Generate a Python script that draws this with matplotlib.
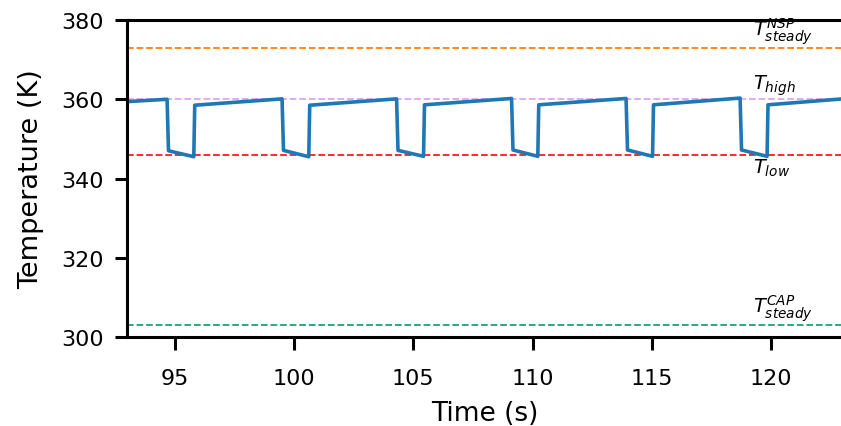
import matplotlib
matplotlib.use("Agg")
import matplotlib.pyplot as plt

# cycle vertices (time in s, temperature in K)
start_time, start_temp = 93.0, 359.4
peak_times = [94.68, 99.50, 104.30, 109.12, 113.92, 118.70]
peak_temps = [360.0, 360.1, 360.1, 360.2, 360.2, 360.3]
drop_temps = [347.0, 347.1, 347.1, 347.2, 347.2, 347.2]
trough_times = [95.80, 100.62, 105.43, 110.22, 115.03, 119.83]
trough_temps = [345.5, 345.5, 345.6, 345.6, 345.6, 345.6]
restart_temps = [358.5, 358.5, 358.6, 358.6, 358.6, 358.6]
end_time, end_temp = 123.0, 360.1

T_nsp = 373.0
T_high = 360.0
T_low = 346.0
T_cap = 303.0

# build polyline
t = [start_time]
T = [start_temp]
for pt, pT, dT, tt, tT, rT in zip(peak_times, peak_temps, drop_temps,
                                  trough_times, trough_temps, restart_temps):
    t += [pt, pt + 0.06, tt, tt + 0.04]
    T += [pT, dT, tT, rT]
t.append(end_time)
T.append(end_temp)

fig = plt.figure(figsize=(8.41, 4.27), dpi=100)
ax = fig.add_axes([0.151, 0.2084, 0.851, 0.7424])

ax.axhline(T_nsp, color="#ff7f0e", ls="--", lw=1.3)
ax.axhline(T_high, color="#dca6f5", ls="--", lw=1.3)
ax.axhline(T_low, color="#ff1a1a", ls="--", lw=1.3)
ax.axhline(T_cap, color="#17a578", ls="--", lw=1.3)
ax.plot(t, T, color="#1f77b4", lw=2.6)

tx = 119.25
ax.text(tx, T_nsp + 0.5, r"$T^{NSP}_{steady}$", fontsize=14, va="bottom")
ax.text(tx, T_high + 0.6, r"$T_{high}$", fontsize=14, va="bottom")
ax.text(tx, T_low - 0.6, r"$T_{low}$", fontsize=14, va="top")
ax.text(tx, T_cap + 0.5, r"$T^{CAP}_{steady}$", fontsize=14, va="bottom")

ax.set_xlim(93, 123)
ax.set_ylim(300, 380)
ax.set_xticks([95, 100, 105, 110, 115, 120])
ax.set_yticks([300, 320, 340, 360, 380])
ax.set_xlabel("Time (s)", fontsize=19, labelpad=9)
ax.set_ylabel("Temperature (K)", fontsize=19.5, labelpad=12)
ax.tick_params(labelsize=16, width=2.2, length=9, direction="out", pad=8)
ax.tick_params(axis="x", pad=13)
ax.spines["right"].set_visible(False)
for s in ["left", "top", "bottom"]:
    ax.spines[s].set_linewidth(2.2)

fig.savefig("out.png", dpi=100)
